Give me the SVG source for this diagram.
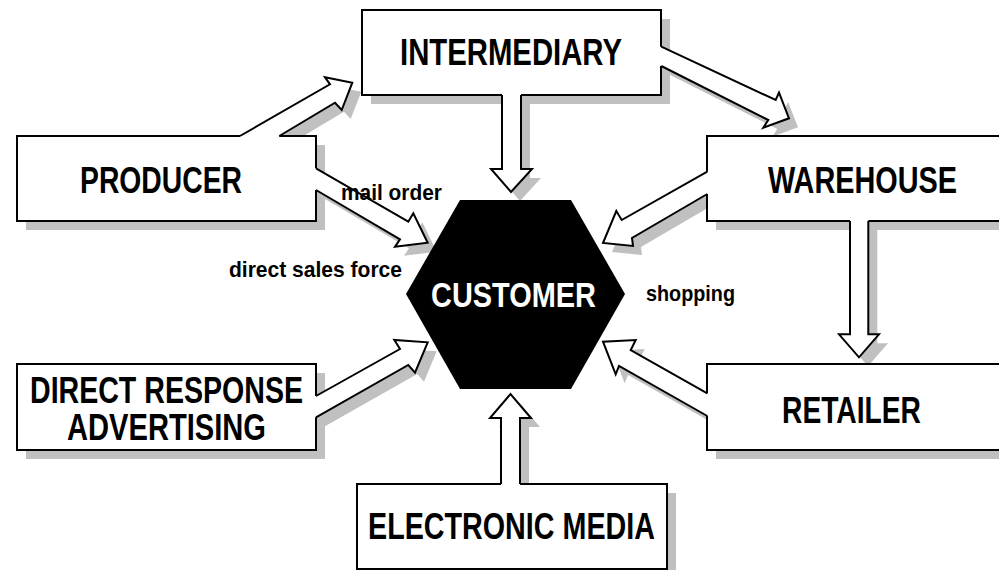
<svg xmlns="http://www.w3.org/2000/svg" width="999" height="570" viewBox="0 0 999 570">
<style>
.box{fill:#fff;stroke:#000;stroke-width:2}
.sh{fill:#c0c0c0;stroke:none}
.af{fill:#fff;stroke:none}
.as{fill:none;stroke:#000;stroke-width:2;stroke-linejoin:miter}
.big{font-family:"Liberation Sans",Arial,sans-serif;font-weight:bold;font-size:36px;fill:#000;text-anchor:middle}
.cust{font-family:"Liberation Sans",Arial,sans-serif;font-weight:bold;font-size:35px;fill:#fff;text-anchor:middle}
.lbl{font-family:"Liberation Sans",Arial,sans-serif;font-weight:bold;font-size:22px;fill:#000}
</style>
<defs>
<path id="p1" d="M240,136 L330,84.3 L325,77.3 L352.3,82.7 L341.7,110 L335,102.7 L279.3,136 L279.3,139 L240,139 Z"/>
<path id="p2" d="M316,168.3 L408.3,221.7 L413.3,213.3 L427.7,242.7 L395,246.7 L400,239.3 L316,190 L313,190 L313,168.3 Z"/>
<path id="p3" d="M502,95 L502,169 L491,169 L511,192 L532,169 L521,169 L521,95 L521,92 L502,92 Z"/>
<path id="p4" d="M661.3,46.7 L775.7,100 L779,92.7 L789,118.3 L763.3,127.7 L768.3,120 L661.3,66 L658,66 L658,46.7 Z"/>
<path id="p5" d="M707.3,171.7 L621.7,220 L616.3,211 L603,243 L633,246 L632,238 L707.3,194 L710,194 L710,171.7 Z"/>
<path id="p6" d="M850,221 L850,334.3 L839,334.3 L859,357.3 L879,334.3 L868.3,334.3 L868.3,221 L868.3,218 L850,218 Z"/>
<path id="p7" d="M707.3,393.3 L630.7,350 L635.7,340 L603,341.7 L615.7,374.3 L619,366 L707.3,416 L710,416 L710,393.3 Z"/>
<path id="p8" d="M316,396 L400,349 L394.3,340 L427.7,342.3 L415,372.7 L408.3,365 L316,417.3 L313,417.3 L313,396 Z"/>
<path id="p9" d="M501,484 L501,418 L490,418 L510.5,394 L531,418 L520,418 L520,484 L520,487 L501,487 Z"/>
</defs>

<g id="connector-shadows" class="sh" transform="translate(9,9)">
<use href="#p1"/><use href="#p2"/><use href="#p3"/><use href="#p4"/><use href="#p5"/><use href="#p6"/><use href="#p7"/><use href="#p8"/><use href="#p9"/>
</g>

<g id="producer">
<rect class="sh" x="26" y="145" width="299" height="85"/>
<rect class="box" x="17" y="136" width="299" height="85"/>
<text class="big" x="161" y="193" textLength="162" lengthAdjust="spacingAndGlyphs">PRODUCER</text>
</g>
<g id="intermediary">
<rect class="sh" x="371" y="19" width="299" height="85"/>
<rect class="box" x="362" y="10" width="299" height="85"/>
<text class="big" x="511" y="65" textLength="222" lengthAdjust="spacingAndGlyphs">INTERMEDIARY</text>
</g>
<g id="warehouse">
<rect class="sh" x="716" y="145" width="284" height="85"/>
<rect class="box" x="707" y="136" width="293" height="85"/>
<text class="big" x="862.5" y="193" font-size="34.5" textLength="189" lengthAdjust="spacingAndGlyphs">WAREHOUSE</text>
</g>
<g id="retailer">
<rect class="sh" x="716" y="373" width="284" height="86"/>
<rect class="box" x="707" y="364" width="293" height="86"/>
<text class="big" x="851.5" y="423" textLength="139" lengthAdjust="spacingAndGlyphs">RETAILER</text>
</g>
<g id="direct-response-advertising">
<rect class="sh" x="26" y="373" width="299" height="86"/>
<rect class="box" x="17" y="364" width="299" height="86"/>
<text class="big" x="166.5" y="403" textLength="273" lengthAdjust="spacingAndGlyphs">DIRECT RESPONSE</text>
<text class="big" x="166.5" y="440" textLength="199" lengthAdjust="spacingAndGlyphs">ADVERTISING</text>
</g>
<g id="electronic-media">
<rect class="sh" x="366" y="493" width="310" height="85"/>
<rect class="box" x="357" y="484" width="310" height="85"/>
<text class="big" x="511.5" y="539" textLength="287" lengthAdjust="spacingAndGlyphs">ELECTRONIC MEDIA</text>
</g>
<g id="customer">
<polygon points="460,200 571,200 625,294 571,389 460,389 406,294" fill="#000"/>
<text class="cust" x="513.5" y="307" textLength="165" lengthAdjust="spacingAndGlyphs">CUSTOMER</text>
</g>

<g id="connectors">
<use href="#p1" class="af"/><path class="as" d="M240,136 L330,84.3 L325,77.3 L352.3,82.7 L341.7,110 L335,102.7 L279.3,136"/>
<use href="#p2" class="af"/><path class="as" d="M316,168.3 L408.3,221.7 L413.3,213.3 L427.7,242.7 L395,246.7 L400,239.3 L316,190"/>
<use href="#p3" class="af"/><path class="as" d="M502,95 L502,169 L491,169 L511,192 L532,169 L521,169 L521,95"/>
<use href="#p4" class="af"/><path class="as" d="M661.3,46.7 L775.7,100 L779,92.7 L789,118.3 L763.3,127.7 L768.3,120 L661.3,66"/>
<use href="#p5" class="af"/><path class="as" d="M707.3,171.7 L621.7,220 L616.3,211 L603,243 L633,246 L632,238 L707.3,194"/>
<use href="#p6" class="af"/><path class="as" d="M850,221 L850,334.3 L839,334.3 L859,357.3 L879,334.3 L868.3,334.3 L868.3,221"/>
<use href="#p7" class="af"/><path class="as" d="M707.3,393.3 L630.7,350 L635.7,340 L603,341.7 L615.7,374.3 L619,366 L707.3,416"/>
<use href="#p8" class="af"/><path class="as" d="M316,396 L400,349 L394.3,340 L427.7,342.3 L415,372.7 L408.3,365 L316,417.3"/>
<use href="#p9" class="af"/><path class="as" d="M501,484 L501,418 L490,418 L510.5,394 L531,418 L520,418 L520,484"/>
</g>

<g id="labels">
<text class="lbl" x="341" y="200" font-size="23" textLength="101" lengthAdjust="spacingAndGlyphs">mail order</text>
<text class="lbl" x="229" y="277" font-size="21" textLength="173" lengthAdjust="spacingAndGlyphs">direct sales force</text>
<text class="lbl" x="646" y="301" font-size="23" textLength="89" lengthAdjust="spacingAndGlyphs">shopping</text>
</g>
</svg>
